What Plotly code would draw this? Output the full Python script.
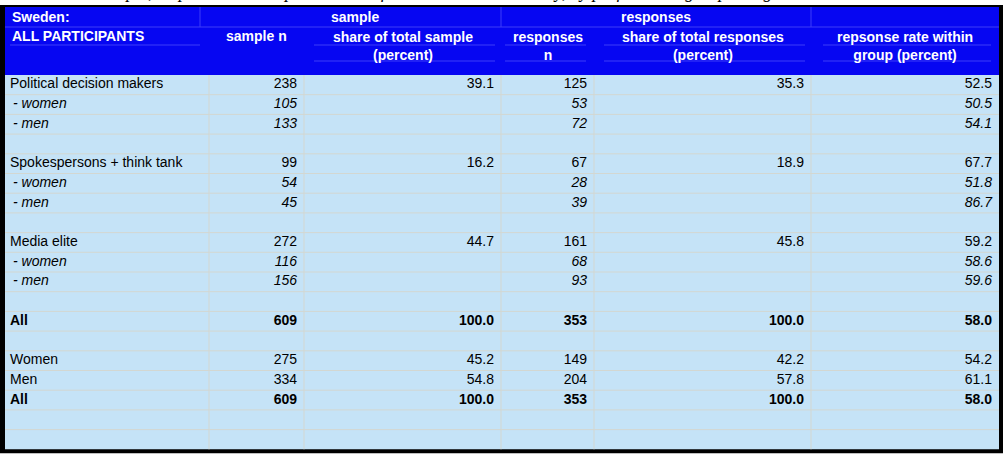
import plotly.graph_objects as go

# table content
labels = ["Political decision makers", "- women", "- men", "",
          "Spokespersons + think tank", "- women", "- men", "",
          "Media elite", "- women", "- men", "",
          "All", "", "Women", "Men", "All", "", ""]
row_kind = ["n", "i", "i", "", "n", "i", "i", "", "n", "i", "i", "",
            "b", "", "n", "n", "b", "", ""]
sample_n = [238, 105, 133, None, 99, 54, 45, None, 272, 116, 156, None,
            609, None, 275, 334, 609, None, None]
share_sample = [39.1, None, None, None, 16.2, None, None, None, 44.7, None, None, None,
                100.0, None, 45.2, 54.8, 100.0, None, None]
responses_n = [125, 53, 72, None, 67, 28, 39, None, 161, 68, 93, None,
               353, None, 149, 204, 353, None, None]
share_responses = [35.3, None, None, None, 18.9, None, None, None, 45.8, None, None, None,
                   100.0, None, 42.2, 57.8, 100.0, None, None]
response_rate = [52.5, 50.5, 54.1, None, 67.7, 51.8, 86.7, None, 59.2, 58.6, 59.6, None,
                 58.0, None, 54.2, 61.1, 58.0, None, None]

header_top = ["Sweden:", "sample", "responses"]
header_cols = ["ALL PARTICIPANTS", "sample n", "share of total sample<br>(percent)",
               "responses<br>n", "share of total responses<br>(percent)",
               "repsonse rate within<br>group (percent)"]
caption = ("Table 2: Sample, responses and response rates of the Swedish elite survey, "
           "by professional group and gender")

# layout in page pixels
W, H = 1008, 459
col_edges = [5, 209, 304, 501, 594, 811, 999]
head_top, head_bot = 7, 75
row_h = 19.7
n_rows = len(labels)
table_bot = head_bot + n_rows * row_h

HEAD_BLUE = "#0606F2"
BODY_BLUE = "#C5E3F7"
GRID = "#D3D7D1"
HEAD_LINE = "#3C3CF8"
FONT = "Liberation Sans, Arial, sans-serif"
FS = 14

fig = go.Figure()
shapes = []

# backgrounds
shapes.append(dict(type="rect", x0=0, x1=1003, y0=5, y1=table_bot + 4,
                   fillcolor="black", line_width=0, layer="below"))
shapes.append(dict(type="rect", x0=col_edges[0], x1=col_edges[-1], y0=head_top, y1=head_bot,
                   fillcolor=HEAD_BLUE, line_width=0, layer="below"))
shapes.append(dict(type="rect", x0=col_edges[0], x1=col_edges[-1], y0=head_bot, y1=table_bot,
                   fillcolor=BODY_BLUE, line_width=0, layer="below"))

# body grid
for i in range(n_rows - 1):
    y = head_bot + (i + 1) * row_h
    shapes.append(dict(type="line", x0=col_edges[0], x1=col_edges[-1], y0=y, y1=y,
                       line=dict(color=GRID, width=1), layer="below"))
for x in col_edges[1:-1]:
    shapes.append(dict(type="line", x0=x, x1=x, y0=head_bot, y1=table_bot,
                       line=dict(color=GRID, width=1), layer="below"))

# faint header cell lines
shapes.append(dict(type="line", x0=col_edges[0], x1=col_edges[-1], y0=27, y1=27,
                   line=dict(color=HEAD_LINE, width=1), layer="below"))
for x in [200, col_edges[3], col_edges[5]]:
    shapes.append(dict(type="line", x0=x, x1=x, y0=head_top, y1=27,
                       line=dict(color=HEAD_LINE, width=1), layer="below"))
shapes.append(dict(type="line", x0=10, x1=200, y0=45, y1=45,
                   line=dict(color=HEAD_LINE, width=1), layer="below"))
for a, b in [(col_edges[2] + 10, col_edges[3] - 6), (col_edges[4] + 10, col_edges[5] - 6),
             (col_edges[5] + 12, col_edges[6] - 8), (col_edges[3] + 4, col_edges[4] - 8)]:
    shapes.append(dict(type="line", x0=a, x1=b, y0=61, y1=61,
                       line=dict(color=HEAD_LINE, width=1), layer="below"))
    shapes.append(dict(type="line", x0=a, x1=b, y0=45, y1=45,
                       line=dict(color=HEAD_LINE, width=1), layer="below"))

annotations = []


def head(text, x, y, anchor="center"):
    annotations.append(dict(x=x, y=y, text=text, showarrow=False, xanchor=anchor,
                            yanchor="middle", align=anchor if anchor != "center" else "center",
                            font=dict(family=FONT, size=FS, color="white")))


head("<b>" + header_top[0] + "</b>", 10, 17, "left")
head("<b>" + header_top[1] + "</b>", (col_edges[1] + col_edges[3]) / 2, 17)
head("<b>" + header_top[2] + "</b>", (col_edges[3] + col_edges[5]) / 2, 17)
head("<b>" + header_cols[0] + "</b>", 10, 36, "left")
for j in range(1, 6):
    txt = "<br>".join("<b>" + t + "</b>" for t in header_cols[j].split("<br>"))
    y = 36 if "<br>" not in txt else 45.5
    head(txt, (col_edges[j] + col_edges[j + 1]) / 2, y)

# caption, cut off by the top edge as in the screenshot
annotations.append(dict(x=30 / W, y=1 + 8 / H, xref="paper", yref="paper",
                        text="<i>" + caption + "</i>", showarrow=False,
                        xanchor="left", yanchor="middle",
                        font=dict(family="Liberation Serif, Times New Roman, serif",
                                  size=18, color="black")))


def fmt(v, kind, decimals):
    if v is None:
        return ""
    s = f"{v:.{decimals}f}"
    if kind == "i":
        return "<i>" + s + "</i>"
    if kind == "b":
        return "<b>" + s + "</b>"
    return s


ys = [head_bot + (i + 0.5) * row_h for i in range(n_rows)]

# label column
lab_text, lab_x = [], []
for lab, kind in zip(labels, row_kind):
    if kind == "i":
        lab_text.append("<i>" + lab + "</i>")
        lab_x.append(13)
    elif kind == "b":
        lab_text.append("<b>" + lab + "</b>")
        lab_x.append(10)
    else:
        lab_text.append(lab)
        lab_x.append(10)
fig.add_trace(go.Scatter(x=lab_x, y=ys, mode="text", text=lab_text,
                         textposition="middle right", hoverinfo="skip",
                         textfont=dict(family=FONT, size=FS, color="black")))

columns = [(sample_n, 0), (share_sample, 1), (responses_n, 0),
           (share_responses, 1), (response_rate, 1)]
for j, (vals, dec) in enumerate(columns):
    xr = col_edges[j + 2] - 7
    fig.add_trace(go.Scatter(x=[xr] * n_rows, y=ys, mode="text",
                             text=[fmt(v, k, dec) for v, k in zip(vals, row_kind)],
                             textposition="middle left", hoverinfo="skip",
                             textfont=dict(family=FONT, size=FS, color="black")))

fig.update_layout(
    width=W, height=H,
    margin=dict(l=0, r=0, t=0, b=0),
    paper_bgcolor="white", plot_bgcolor="white",
    showlegend=False,
    shapes=shapes, annotations=annotations,
    xaxis=dict(range=[0, W], visible=False, fixedrange=True),
    yaxis=dict(range=[H, 0], visible=False, fixedrange=True),
)

fig.write_html("out.html", config={"displayModeBar": False},
               post_script="document.body.style.margin='0';")
